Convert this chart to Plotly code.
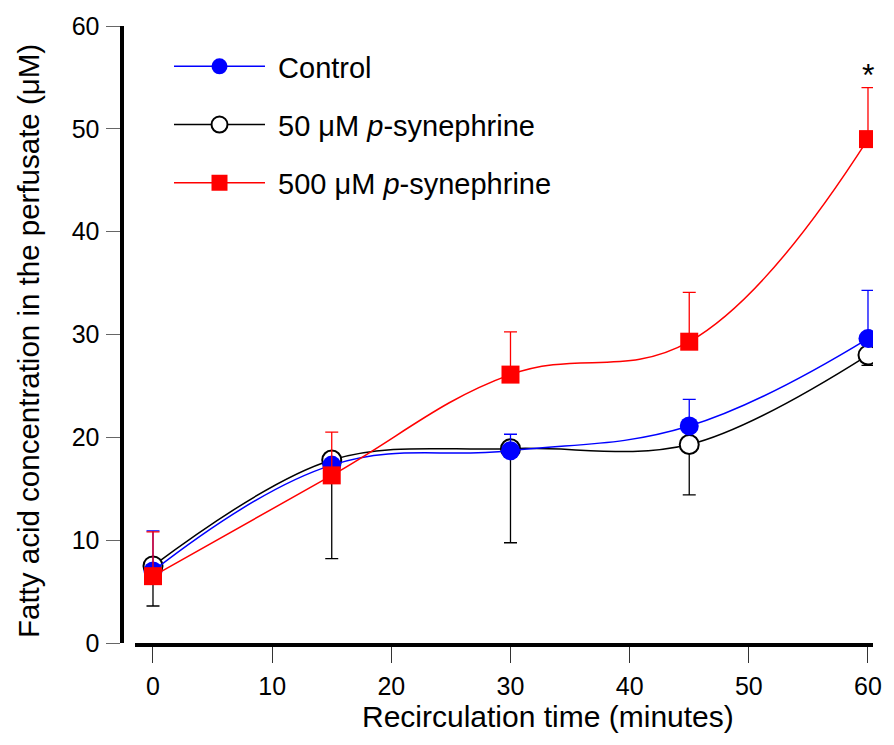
import plotly.graph_objects as go

time = [0, 15, 30, 45, 60]
control = [7.0, 17.3, 18.7, 21.1, 29.6]
control_err_up = [3.9, 0.5, 1.6, 2.6, 4.7]
syn50 = [7.5, 17.8, 18.9, 19.3, 28.0]
syn50_err_down = [3.9, 9.6, 9.15, 4.9, 1.0]
syn500 = [6.5, 16.3, 26.1, 29.3, 49.0]
syn500_err_up = [4.3, 4.2, 4.15, 4.8, 5.0]

x_ticks = [0, 10, 20, 30, 40, 50, 60]
y_ticks = [0, 10, 20, 30, 40, 50, 60]

W, H = 894, 745
OFF = 8  # page body margin in the browser
FONT = "Liberation Sans, Arial, sans-serif"


def px(x):
    return (x - OFF) / W


def py(y):
    return 1 - (y - OFF) / H


fig = go.Figure()

fig.add_trace(go.Scatter(
    x=time, y=syn50, name="\u00a050 μM <i>p</i>-synephrine", legendrank=2, legendgroup="b",
    mode="lines+markers",
    line=dict(color="black", width=1.5, shape="spline", smoothing=1.0),
    marker=dict(symbol="circle", size=19, color="white", line=dict(color="black", width=2)),
    error_y=dict(type="data", symmetric=False, array=[0]*5, arrayminus=syn50_err_down,
                 color="black", thickness=1.3, width=6.5),
))
fig.add_trace(go.Scatter(
    x=time, y=control, name="\u00a0Control", legendrank=1, legendgroup="a",
    mode="lines+markers",
    line=dict(color="#0000ff", width=1.5, shape="spline", smoothing=1.15),
    marker=dict(symbol="circle", size=19, color="#0000ff"),
    error_y=dict(type="data", symmetric=False, array=control_err_up, arrayminus=[0]*5,
                 color="#0000ff", thickness=1.3, width=6.5),
))
fig.add_trace(go.Scatter(
    x=time, y=syn500, name="\u00a0500 μM <i>p</i>-synephrine", legendrank=3, legendgroup="c",
    mode="lines+markers",
    line=dict(color="#ff0000", width=1.5, shape="spline", smoothing=1.15),
    marker=dict(symbol="square", size=18, color="#ff0000"),
    error_y=dict(type="data", symmetric=False, array=syn500_err_up, arrayminus=[0]*5,
                 color="#ff0000", thickness=1.3, width=6.5),
))

fig.add_annotation(x=60, y=55.2, text="*", showarrow=False, xref="x", yref="y",
                   xanchor="center", yanchor="middle",
                   font=dict(family=FONT, size=32, color="black"))

fig.update_layout(
    width=W, height=H, autosize=False,
    margin=dict(l=0, r=0, t=0, b=0, autoexpand=False),
    plot_bgcolor="white", paper_bgcolor="white",
    font=dict(family=FONT, size=20, color="black"),
    showlegend=True,
    legend=dict(x=px(169), y=py(41), xanchor="left", yanchor="top",
                bgcolor="rgba(0,0,0,0)", font=dict(family=FONT, size=29),
                traceorder="grouped", tracegroupgap=17.5, itemwidth=91),
    xaxis=dict(domain=[px(135), px(873)], range=[-1.51, 60.42], tickvals=x_ticks,
               showline=True, linecolor="black", linewidth=4, automargin=False,
               ticks="outside", ticklen=16, tickwidth=1, tickcolor="#333",
               showgrid=False, zeroline=False,
               tickfont=dict(family=FONT, size=25), ticklabelstandoff=2),
    yaxis=dict(domain=[py(643), py(26)], range=[0, 60], tickvals=y_ticks,
               anchor="free", position=px(121.5), automargin=False,
               showline=True, linecolor="black", linewidth=4,
               ticks="outside", ticklen=14, tickwidth=1, tickcolor="#666",
               showgrid=False, zeroline=False,
               tickfont=dict(family=FONT, size=25), ticklabelstandoff=1),
)

fig.add_annotation(x=px(548), y=py(716), xref="paper", yref="paper",
                   xanchor="center", yanchor="middle",
                   text="Recirculation time (minutes)", showarrow=False,
                   font=dict(family=FONT, size=30))
fig.add_annotation(x=px(29), y=py(341), xref="paper", yref="paper",
                   xanchor="center", yanchor="middle",
                   text="Fatty acid concentration in the perfusate (μM)", showarrow=False,
                   textangle=-90, font=dict(family=FONT, size=29.5))

fig.write_html("out.html")
